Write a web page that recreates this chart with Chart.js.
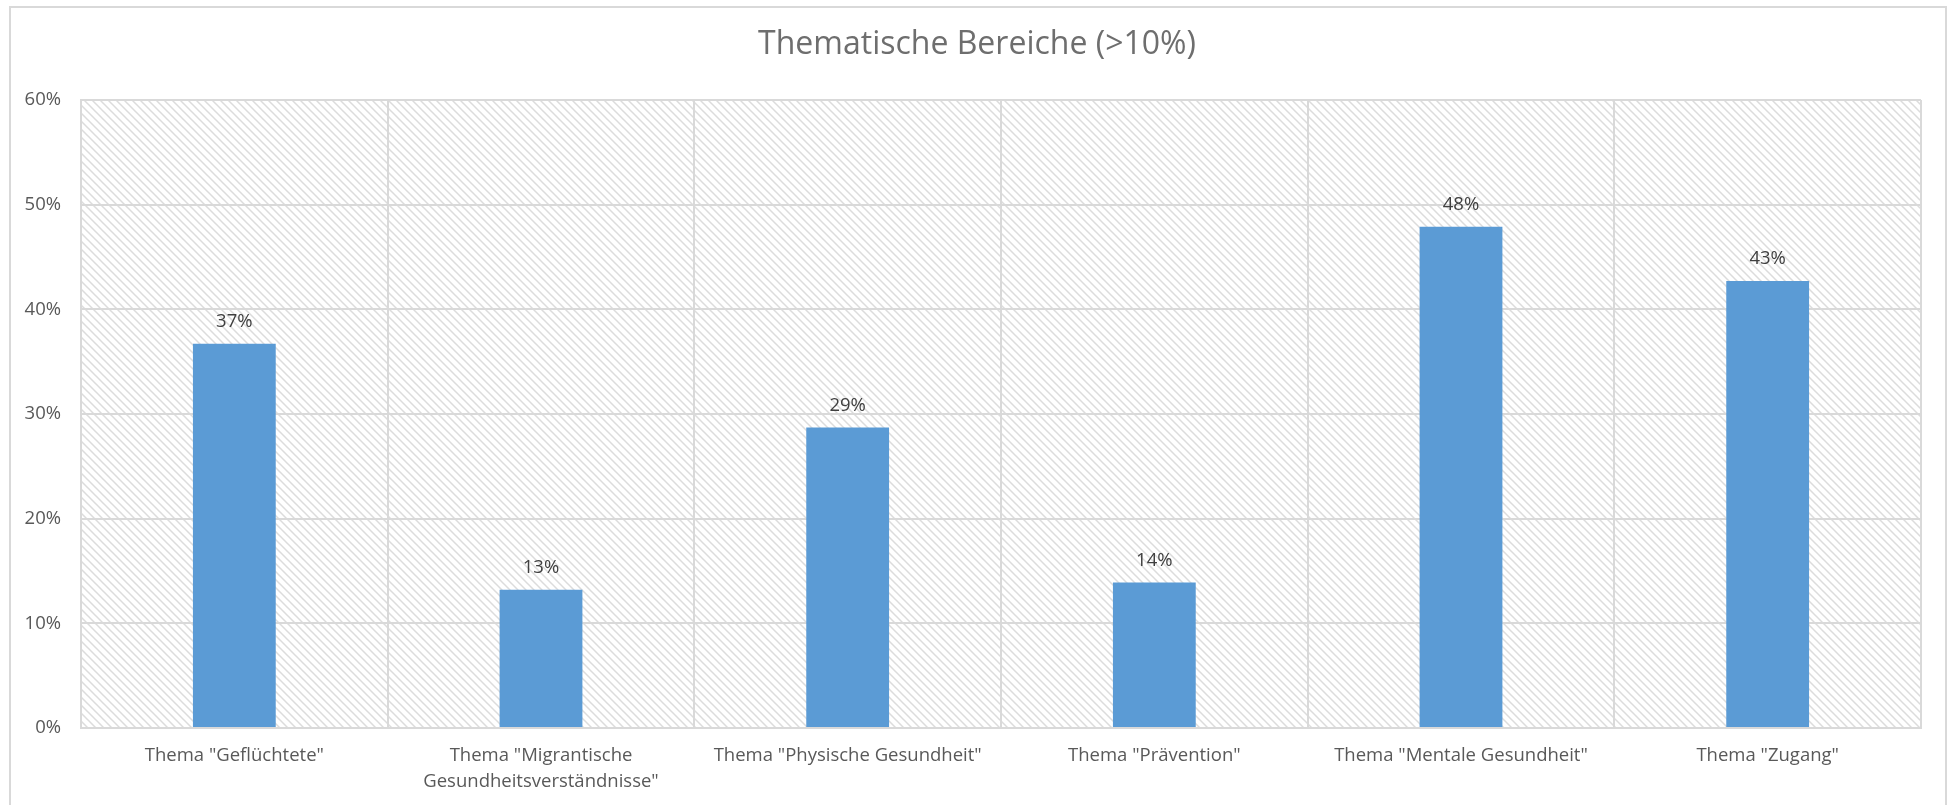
<!DOCTYPE html>
<html>
<head>
<meta charset="utf-8">
<script src="https://cdn.jsdelivr.net/npm/chart.js@4/dist/chart.umd.min.js"></script>
<style>
  html, body { margin: 0; padding: 0; background: #fff; overflow: hidden; }
  #wrap { position: absolute; left: 0; top: 0; width: 1948px; height: 805px; }
</style>
</head>
<body>
<div id="wrap"><canvas id="chart" width="1948" height="805"></canvas></div>
<script>
// Daten
const categories = [
  'Thema "Geflüchtete"',
  ['Thema "Migrantische', 'Gesundheitsverständnisse"'],
  'Thema "Physische Gesundheit"',
  'Thema "Prävention"',
  'Thema "Mentale Gesundheit"',
  'Thema "Zugang"'
];
const values = [36.7, 13.2, 28.7, 13.9, 47.9, 42.7];
const yTicks = [0, 10, 20, 30, 40, 50, 60];
const titleText = "Thematische Bereiche (>10%)";

const TEXT = "#595959";
const GRID = "#d9d9d9";
const FONT = "'Open Sans', 'Noto Sans', sans-serif";

// Schraffur-Muster für die Zeichenfläche
function makeHatch() {
  const c = document.createElement("canvas");
  c.width = 8;
  c.height = 8;
  const g = c.getContext("2d");
  g.strokeStyle = "#dcdcdc";
  g.lineWidth = 1.5;
  g.beginPath();
  g.moveTo(-2, -2);
  g.lineTo(10, 10);
  g.moveTo(-2, 6);
  g.lineTo(2, 10);
  g.moveTo(6, -2);
  g.lineTo(10, 2);
  g.stroke();
  return g.createPattern(c, "repeat");
}

const backgroundPlugin = {
  id: "background",
  beforeDraw(chart) {
    const ctx = chart.ctx;
    const a = chart.chartArea;
    ctx.save();
    // äußerer Rahmen
    ctx.strokeStyle = GRID;
    ctx.lineWidth = 2;
    ctx.strokeRect(10, 7, 1936, 820);
    // Schraffur
    ctx.fillStyle = makeHatch();
    ctx.fillRect(a.left, a.top, a.right - a.left, a.bottom - a.top);
    // Titel (über die ganze Fläche zentriert, wie in Excel)
    ctx.fillStyle = "#6e6e6e";
    ctx.font = "32px " + FONT;
    ctx.textAlign = "center";
    ctx.textBaseline = "middle";
    ctx.fillText(titleText, 977, 45);
    ctx.restore();
  },
  afterDatasetsDraw(chart) {
    const ctx = chart.ctx;
    const meta = chart.getDatasetMeta(0);
    ctx.save();
    ctx.fillStyle = "#404040";
    ctx.font = "18.5px " + FONT;
    ctx.textAlign = "center";
    ctx.textBaseline = "middle";
    meta.data.forEach((bar, i) => {
      ctx.fillText(Math.round(values[i]) + "%", bar.x, bar.y - 22);
    });
    ctx.restore();
  }
};

new Chart(document.getElementById("chart"), {
  type: "bar",
  data: {
    labels: categories,
    datasets: [{
      data: values,
      backgroundColor: "#5b9bd5",
      borderWidth: 0,
      categoryPercentage: 1,
      barPercentage: 0.27
    }]
  },
  options: {
    responsive: false,
    animation: false,
    devicePixelRatio: 1,
    layout: { padding: { left: 0, right: 27, top: 100, bottom: 0 } },
    plugins: {
      legend: { display: false },
      tooltip: { enabled: false },
      title: { display: false }
    },
    scales: {
      x: {
        grid: { color: GRID, lineWidth: 2, drawTicks: false, offset: true },
        border: { color: GRID, width: 2 },
        ticks: {
          color: TEXT,
          font: { family: FONT, size: 18.5, lineHeight: 1.4 },
          padding: 15,
          maxRotation: 0,
          autoSkip: false
        },
        afterFit(s) { s.height = 77; }
      },
      y: {
        min: 0,
        max: 60,
        afterBuildTicks(s) { s.ticks = yTicks.map(v => ({ value: v })); },
        grid: { color: GRID, lineWidth: 2, drawTicks: false },
        border: { color: GRID, width: 2 },
        ticks: {
          color: TEXT,
          font: { family: FONT, size: 18.5 },
          padding: 20,
          callback: v => v + "%"
        },
        afterFit(s) { s.width = 81; }
      }
    }
  },
  plugins: [backgroundPlugin]
});
</script>
</body>
</html>
